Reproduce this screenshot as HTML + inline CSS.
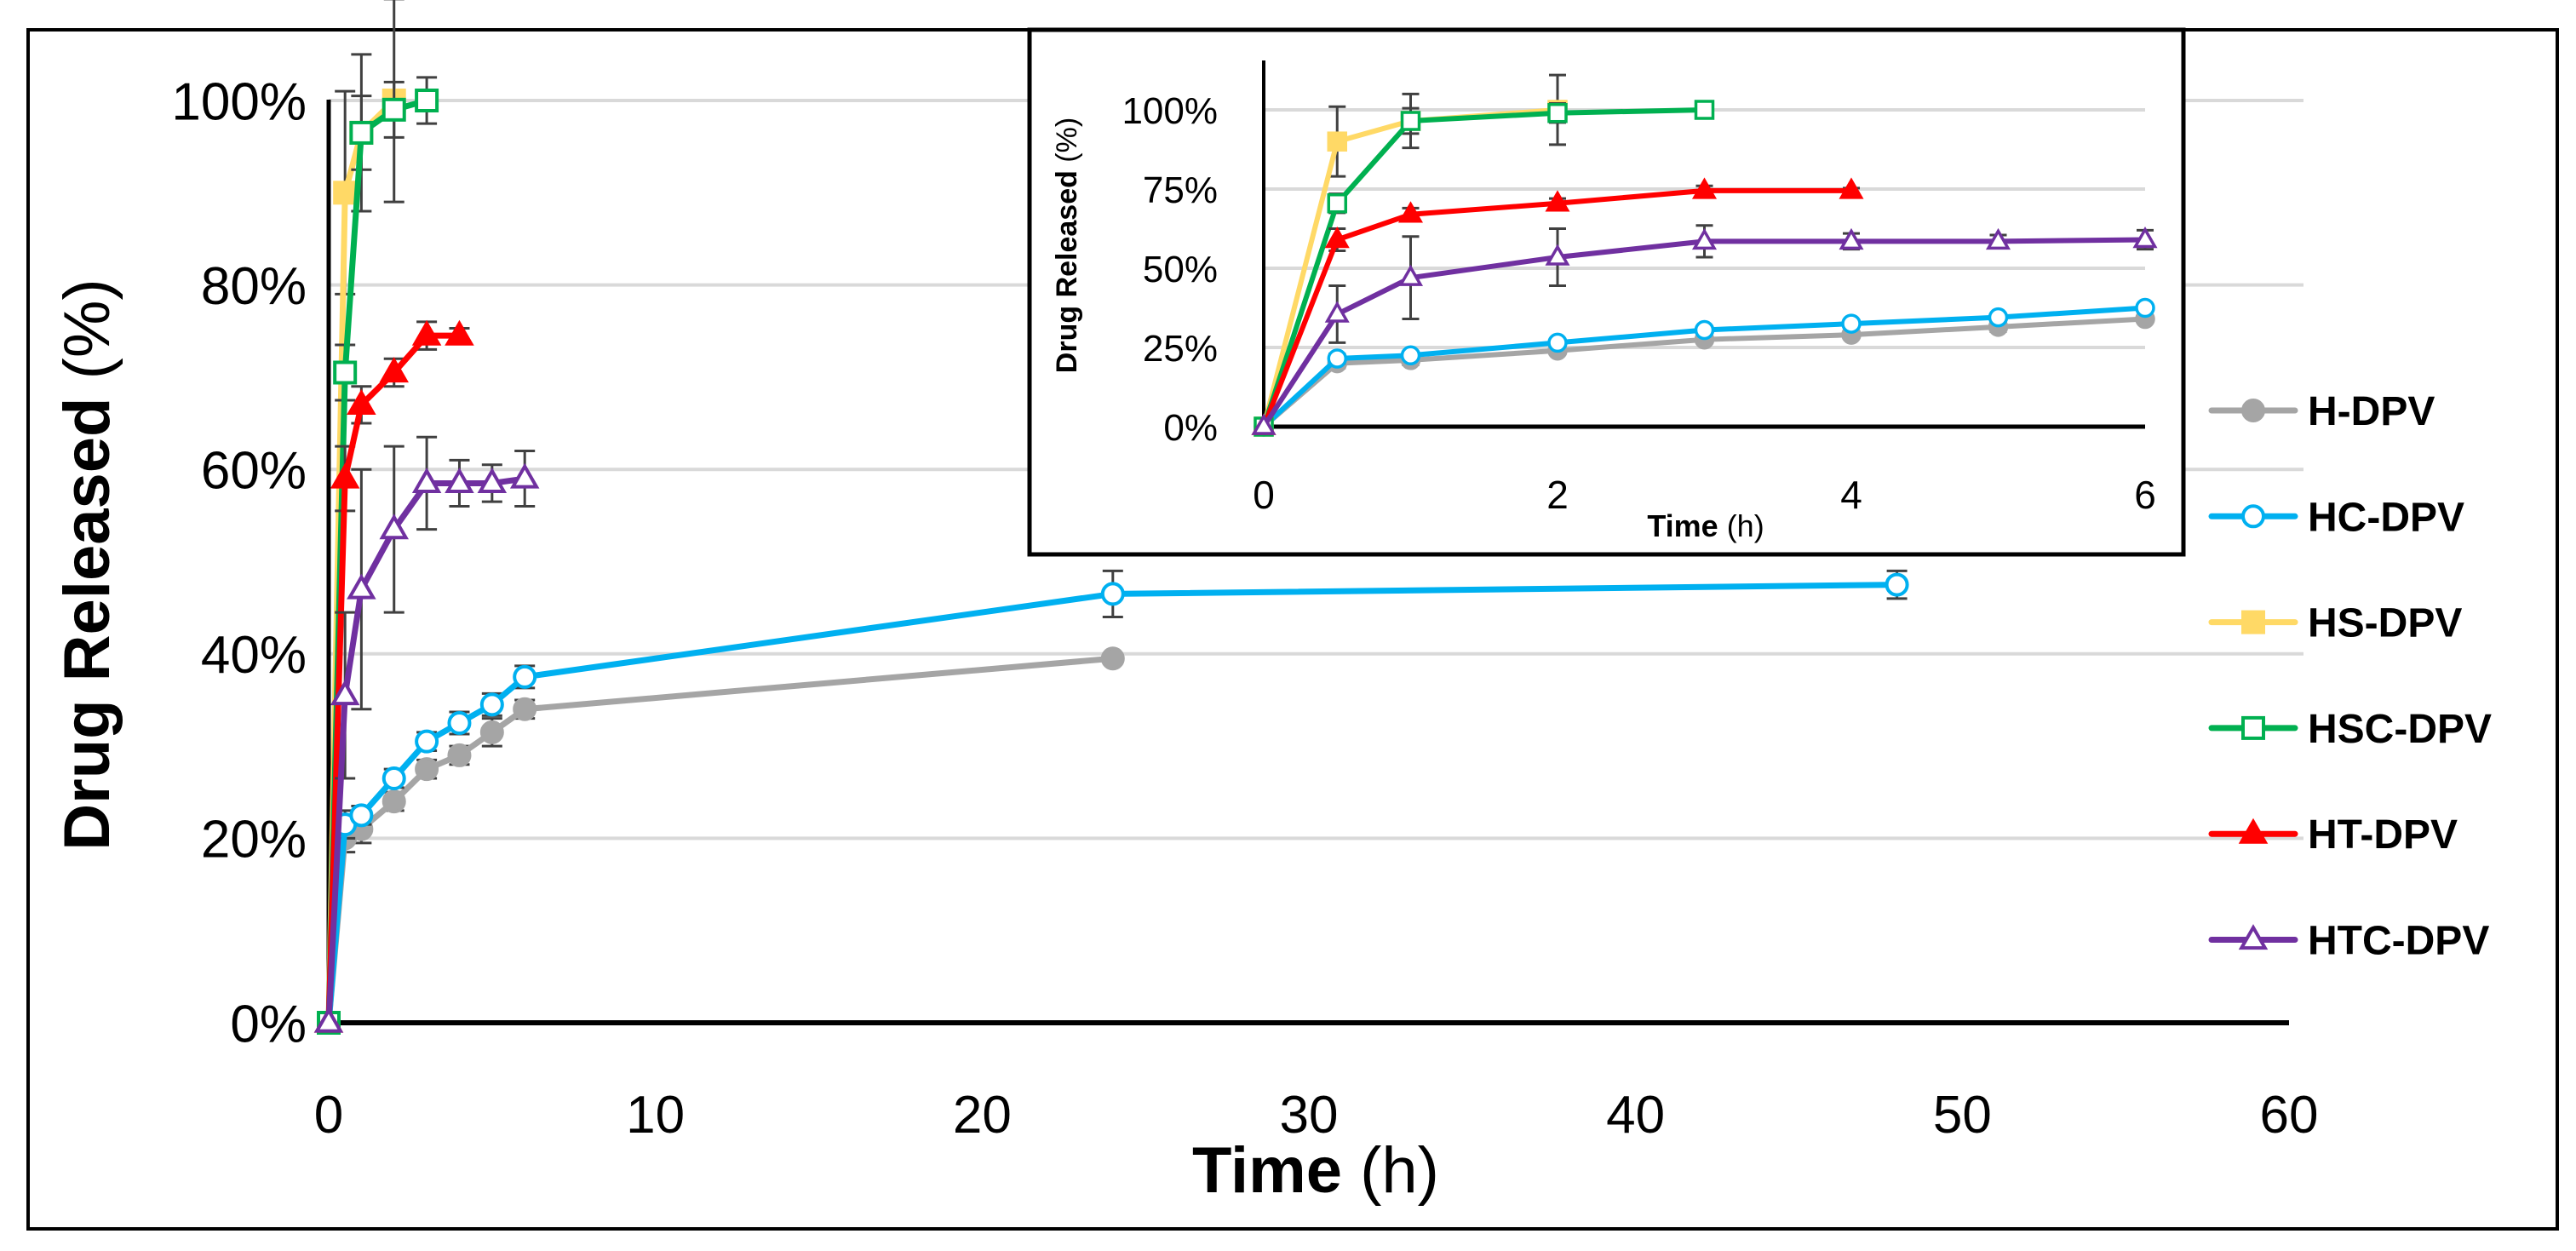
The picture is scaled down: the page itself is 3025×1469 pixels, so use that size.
<!DOCTYPE html>
<html><head><meta charset="utf-8"><style>
html,body{margin:0;padding:0;background:#fff}
svg{display:block}
text{font-family:"Liberation Sans",sans-serif}
</style></head><body>
<svg id="chart" width="3025" height="1469" viewBox="0 0 3025 1469" xmlns="http://www.w3.org/2000/svg">
<rect x="33" y="35" width="2970" height="1408" fill="#fff" stroke="#000" stroke-width="4"/>
<g id="main"></g>
<rect x="1209" y="35" width="1355" height="616" fill="#fff" stroke="#000" stroke-width="5"/>
<g id="inset"></g>
<g id="legend"></g>
<text transform="translate(128,663) rotate(-90)" text-anchor="middle" font-size="76"><tspan font-weight="bold">Drug Released </tspan><tspan>(%)</tspan></text>
<text x="1545" y="1400" text-anchor="middle" font-size="76"><tspan font-weight="bold">Time </tspan><tspan>(h)</tspan></text>
<text transform="translate(1264,288) rotate(-90)" text-anchor="middle" font-size="34"><tspan font-weight="bold">Drug Released </tspan><tspan>(%)</tspan></text>
<text x="2003" y="630" text-anchor="middle" font-size="36"><tspan font-weight="bold">Time </tspan><tspan>(h)</tspan></text>
</svg>
<script>
const seriesNames = ["H-DPV","HC-DPV","HS-DPV","HSC-DPV","HT-DPV","HTC-DPV"];
const hTimes = [0,0.5,1,2,3,4,5,6,24];
const hValues = [0,20,21,24,27.5,29,31.5,34,39.5];
const hErr = [0,1.5,1.5,1,1,1,1.5,1,0.5];
const hcTimes = [0,0.5,1,2,3,4,5,6,24,48];
const hcValues = [0,21.5,22.5,26.5,30.5,32.5,34.5,37.5,46.5,47.5];
const hcErr = [0,1.5,1,1,1,1.2,1.2,1.2,2.5,1.5];
const hsTimes = [0,0.5,1,2];
const hsValues = [0,90,96.5,100];
const hsErr = [0,11,8.5,11];
const hscTimes = [0,0.5,1,2,3];
const hscValues = [0,70.5,96.5,99,100];
const hscErr = [0,3,4,3,2.5];
const htTimes = [0,0.5,1,2,3,4];
const htValues = [0,59,67,70.5,74.5,74.5];
const htErr = [0,3.5,2,1.5,1.5,0.8];
const htcTimes = [0,0.5,1,2,3,4,5,6];
const htcValues = [0,35.5,47,53.5,58.5,58.5,58.5,59];
const htcErr = [0,9,13,9,5,2.5,2,3];
const mainYTicks = [0,20,40,60,80,100];
const mainXTicks = [0,10,20,30,40,50,60];
const insetYTicks = [0,25,50,75,100];
const insetXTicks = [0,2,4,6];

const NS="http://www.w3.org/2000/svg";
function mk(tag,attrs,parent){const e=document.createElementNS(NS,tag);for(const k in attrs)e.setAttribute(k,attrs[k]);parent.appendChild(e);return e;}
const series=[
 {t:hTimes,v:hValues,e:hErr,c:"#a5a5a5",m:"circle",fill:true},
 {t:hcTimes,v:hcValues,e:hcErr,c:"#00b0f0",m:"circle",fill:false},
 {t:hsTimes,v:hsValues,e:hsErr,c:"#ffd966",m:"square",fill:true},
 {t:hscTimes,v:hscValues,e:hscErr,c:"#00b050",m:"square",fill:false},
 {t:htTimes,v:htValues,e:htErr,c:"#ff0000",m:"tri",fill:true},
 {t:htcTimes,v:htcValues,e:htcErr,c:"#7030a0",m:"tri",fill:false}
];
function marker(g,x,y,s,r,sw){
 let el;
 if(s.m==="circle") el=mk("circle",{cx:x,cy:y,r:r},g);
 else if(s.m==="square") el=mk("rect",{x:x-r,y:y-r,width:2*r,height:2*r},g);
 else el=mk("polygon",{points:`${x},${y-r*1.2} ${x+r*1.15},${y+r*0.8} ${x-r*1.15},${y+r*0.8}`},g);
 el.setAttribute("fill",s.fill?s.c:"#fff");
 el.setAttribute("stroke",s.c);el.setAttribute("stroke-width",sw);
 
 
}
function draw(g,o){
 const X=t=>o.x0+(t-o.tmin)/(o.tmax-o.tmin)*(o.x1-o.x0);
 const Y=v=>o.y0-(v/o.vmax)*(o.y0-o.y1);
 o.yt.forEach(v=>{
  if(v>0){const l=mk("line",{x1:o.x0,x2:o.gx,y1:Y(v),y2:Y(v),stroke:"#d9d9d9","stroke-width":o.gw},g);
  }
  const t=mk("text",{x:o.ylx,y:Y(v)+o.yfs*0.36,"text-anchor":"end","font-size":o.yfs},g);
  t.textContent=v+"%";
  
 });
 o.xt.forEach(v=>{
  const t=mk("text",{x:X(v),y:o.xly,"text-anchor":"middle","font-size":o.xfs},g);
  t.textContent=v;
  
 });
 const ax=mk("line",{x1:o.x0,x2:o.x0,y1:o.yaxTop,y2:o.y0,stroke:"#000","stroke-width":o.aw},g);
 
 const bx=mk("line",{x1:o.x0,x2:o.axEnd,y1:o.y0,y2:o.y0,stroke:"#000","stroke-width":o.aw+1},g);
 
 series.forEach((s,si)=>{
  const idx=s.t.map((t,i)=>i).filter(i=>s.t[i]<=o.tmax);
  const sg=mk("g",{},g);
  
  
  idx.forEach(i=>{ if(s.e[i]>0){
   const x=X(s.t[i]);const a=Y(s.v[i]+s.e[i]),b=Y(s.v[i]-s.e[i]);
   const p=mk("path",{d:`M${x},${a}V${b}M${x-o.cap},${a}H${x+o.cap}M${x-o.cap},${b}H${x+o.cap}`,stroke:"#404040","stroke-width":o.ew,fill:"none"},sg);
   
  }});
  const pl=mk("polyline",{points:idx.map(i=>X(s.t[i])+","+Y(s.v[i])).join(" "),fill:"none",stroke:s.c,"stroke-width":o.lw,"stroke-linejoin":"round"},sg);
  
  idx.forEach(i=>marker(sg,X(s.t[i]),Y(s.v[i]),s,o.mr,o.msw));
 });
}
draw(document.getElementById("main"),{x0:386,x1:2688,tmin:0,tmax:60,y0:1201,y1:118,vmax:100,gx:2705,gw:4,
 yt:mainYTicks,xt:mainXTicks,ylx:360,yfs:62,xly:1330,xfs:62,yaxTop:117,axEnd:2688,aw:5,cap:12,ew:3,lw:7,mr:12,msw:4});
draw(document.getElementById("inset"),{x0:1484,x1:2519,tmin:0,tmax:6,y0:501,y1:129,vmax:100,gx:2519,gw:4,
 yt:insetYTicks,xt:insetXTicks,ylx:1430,yfs:44,xly:597,xfs:46,yaxTop:71,axEnd:2519,aw:4,cap:10,ew:3,lw:6,mr:10,msw:3.5});
const lg=document.getElementById("legend");
series.forEach((s,i)=>{
 const y=482+i*124.3;
 const g=mk("g",{},lg);
 
 
 mk("line",{x1:2597,x2:2695,y1:y,y2:y,stroke:s.c,"stroke-width":7,"stroke-linecap":"round"},g);
 marker(g,2646,y,s,12,4);
 const t=mk("text",{x:2710,y:y+17,"font-size":48,"font-weight":"bold"},g);
 t.textContent=seriesNames[i];
});
</script>
</body></html>
